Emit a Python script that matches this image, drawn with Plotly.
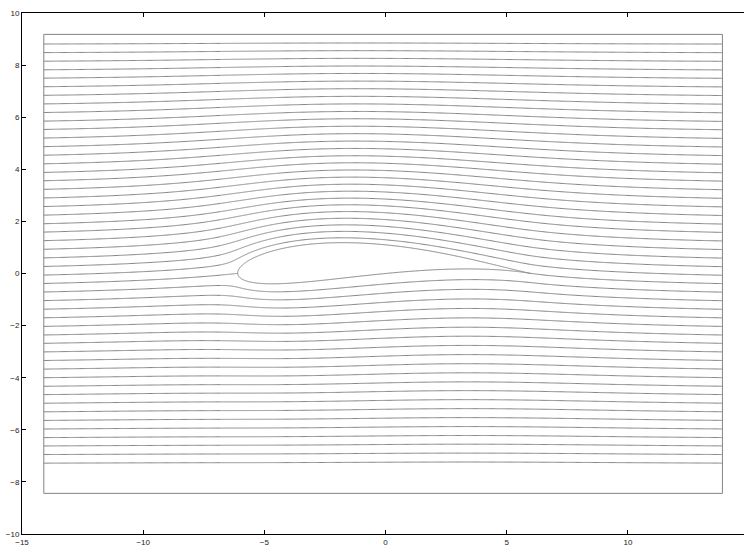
import numpy as np
import plotly.graph_objects as go

# --- Joukowski airfoil in a uniform stream between two walls (potential flow) ---
JOUK_C = 3.0                  # mapping constant: trailing edge sits at z = 2c
CIRCLE_CENTER = (-0.3, 0.3)   # centre of the generating circle (zeta plane)
U_INF = 1.0                   # free-stream speed
ALPHA_DEG = 0.0               # angle of attack
N_IMAGES = 4                  # wall images on each side

# computational box (top and bottom are walls)
BOX_X = [-14.1, 13.9]
BOX_Y = [-8.44, 9.18]

# heights at which the streamlines cross the inflow edge of the box
SEED_Y = [8.81, 8.48, 8.15, 7.82, 7.50, 7.17, 6.84, 6.51, 6.18, 5.85,
          5.53, 5.20, 4.87, 4.54, 4.21, 3.88, 3.56, 3.23, 2.90, 2.57,
          2.24, 1.91, 1.59, 1.26, 0.93, 0.60, 0.27, -0.06, -0.39, -0.71,
          -1.04, -1.37, -1.70, -2.03, -2.36, -2.68, -3.01, -3.34, -3.67, -4.00,
          -4.33, -4.65, -4.98, -5.31, -5.64, -5.97, -6.30, -6.62, -6.95, -7.28]

X_TICKS = [-15, -10, -5, 0, 5, 10, 15]
Y_TICKS = [-10, -8, -6, -4, -2, 0, 2, 4, 6, 8, 10]

LINE_COLOR = "rgb(132,132,132)"

# ---------------------------------------------------------------------------
zc = complex(*CIRCLE_CENTER)
R = abs(JOUK_C - zc)
alpha = np.radians(ALPHA_DEG)
beta = -np.angle(JOUK_C - zc)
gamma_2pi = 2.0 * U_INF * R * np.sin(alpha + beta)
H = BOX_Y[1] - BOX_Y[0]
y_top = BOX_Y[1]


def joukowski(zeta):
    return zeta + JOUK_C ** 2 / zeta


def zeta_outside(z):
    s = np.sqrt(z * z - 4.0 * JOUK_C ** 2)
    z1 = (z + s) / 2.0
    z2 = (z - s) / 2.0
    return np.where(np.abs(z1 - zc) >= np.abs(z2 - zc), z1, z2)


def free_psi(z):
    """Unbounded-flow stream function (zero inside the body)."""
    zp = zeta_outside(z) - zc
    w = U_INF * (zp * np.exp(-1j * alpha) + R ** 2 * np.exp(1j * alpha) / zp) \
        + 1j * gamma_2pi * np.log(zp / R)
    return np.where(np.abs(zp) < R, 0.0, w.imag)


def disturbance(x, y):
    return free_psi(x + 1j * y) - U_INF * y


def stream_function(x, y):
    psi = free_psi(x + 1j * y)
    for n in range(-N_IMAGES, N_IMAGES + 1):
        if n != 0:
            psi = psi + disturbance(x, y + 2 * n * H)
        psi = psi - disturbance(x, 2 * y_top - y + 2 * n * H)
    return psi


def level_curve(xs, level, iters=28):
    lo = np.full(xs.shape, BOX_Y[0])
    hi = np.full(xs.shape, BOX_Y[1])
    ok = (stream_function(xs, lo) <= level) & (stream_function(xs, hi) >= level)
    for _ in range(iters):
        mid = 0.5 * (lo + hi)
        below = stream_function(xs, mid) < level
        lo = np.where(below, mid, lo)
        hi = np.where(below, hi, mid)
    y = 0.5 * (lo + hi)
    y[~ok] = np.nan
    return y


# sample abscissae, denser around the nose
xs = np.unique(np.concatenate([
    np.linspace(BOX_X[0], BOX_X[1], 640),
    np.linspace(-6.8, -4.5, 160),
]))

theta_f = np.pi + 2 * alpha + beta
z_stag = joukowski(zc + R * np.exp(1j * theta_f))
psi_body = float(stream_function(np.array([z_stag.real]), np.array([z_stag.imag]))[0])

levels = stream_function(np.full(len(SEED_Y), BOX_X[0]), np.array(SEED_Y))

line_x, line_y = [], []
for lev in levels:
    if abs(lev - psi_body) < 0.02:
        continue
    # one bisection pass per level over all abscissae
    y = level_curve(xs, lev)
    line_x += list(xs) + [None]
    line_y += list(y) + [None]

# body streamline: upstream branch, airfoil surface, wake branch
xu = xs[xs < z_stag.real - 1e-3]
line_x += list(xu) + [z_stag.real, None]
line_y += list(level_curve(xu, psi_body)) + [z_stag.imag, None]

xw = xs[xs > 2 * JOUK_C + 1e-3]
line_x += [2 * JOUK_C] + list(xw) + [None]
line_y += [0.0] + list(level_curve(xw, psi_body)) + [None]

th = np.linspace(0, 2 * np.pi, 1200)
surf = joukowski(zc + R * np.exp(1j * th))
line_x += list(surf.real) + [None]
line_y += list(surf.imag) + [None]

fig = go.Figure()
fig.add_trace(go.Scatter(
    x=line_x, y=line_y, mode="lines",
    line=dict(color=LINE_COLOR, width=1, simplify=False),
    hoverinfo="skip", showlegend=False,
))
fig.add_trace(go.Scatter(
    x=[BOX_X[0], BOX_X[1], BOX_X[1], BOX_X[0], BOX_X[0]],
    y=[BOX_Y[0], BOX_Y[0], BOX_Y[1], BOX_Y[1], BOX_Y[0]],
    mode="lines", line=dict(color=LINE_COLOR, width=1),
    hoverinfo="skip", showlegend=False,
))

axis_common = dict(
    showgrid=False, zeroline=False, showline=True,
    linecolor="black", linewidth=1,
    ticks="inside", ticklen=4, tickcolor="black", tickwidth=1,
    tickfont=dict(family="Liberation Sans", size=8, color="#222"),
)
fig.update_xaxes(range=[-15, 14.79], tickvals=X_TICKS, mirror="ticks", **axis_common)
fig.update_yaxes(range=[-10, 10], tickvals=Y_TICKS, mirror=False, **axis_common)

fig.update_layout(
    width=744, height=547,
    margin=dict(l=22, r=0, t=13, b=9),
    paper_bgcolor="white", plot_bgcolor="white",
)

fig.write_html("out.html")
